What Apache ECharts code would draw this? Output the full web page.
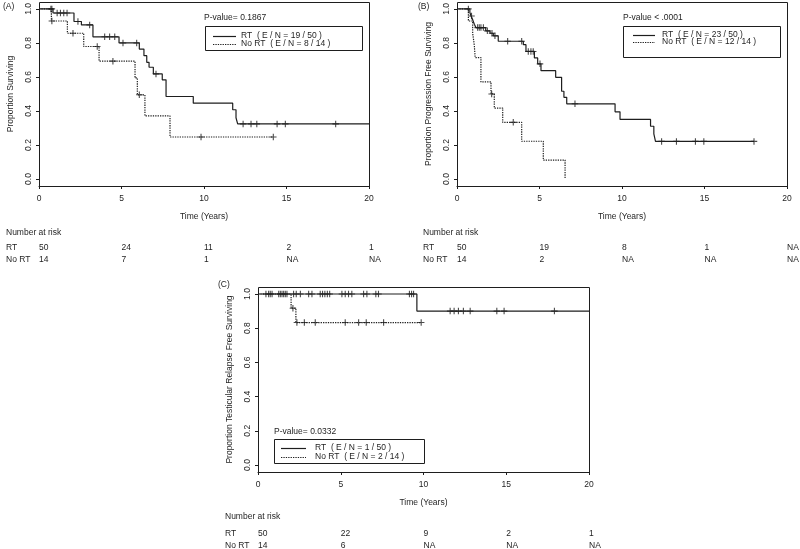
<!DOCTYPE html>
<html><head><meta charset="utf-8">
<script src="https://cdn.jsdelivr.net/npm/echarts@6/dist/echarts.min.js"></script>
<style>html,body{margin:0;padding:0;background:#fff}#c{width:800px;height:549px}</style>
</head><body><div id="c"></div>
<script>
// ---- data ----
const timeTicks = [0, 5, 10, 15, 20];

// Panel A : overall survival
const aRtTime = [0, 0.85, 2.12, 2.57, 3.27, 4.85, 6.08, 6.36, 6.53, 6.67, 6.93, 7.47, 7.70, 9.35, 11.74, 11.94, 12.04, 20];
const aRtSurv = [1, 0.976, 0.926, 0.906, 0.836, 0.80, 0.764, 0.725, 0.686, 0.657, 0.618, 0.583, 0.485, 0.446, 0.407, 0.36, 0.324, 0.324];
const aRtCens = [0.72, 0.78, 1.1, 1.3, 1.5, 1.7, 2.36, 3.07, 3.98, 4.28, 4.59, 5.09, 5.92, 7.09, 12.37, 12.85, 13.2, 14.43, 14.93, 17.98];
const aNoTime = [0, 0.75, 1.72, 2.71, 3.64, 5.82, 5.96, 6.42, 7.94, 14.2];
const aNoSurv = [1, 0.929, 0.857, 0.779, 0.693, 0.594, 0.495, 0.371, 0.247, 0.247];
const aNoCens = [0.78, 2.06, 3.53, 4.48, 6.08, 9.82, 14.2];

// Panel B : progression free survival
const bRtTime = [0, 0.78, 0.85, 0.95, 1.05, 1.15, 1.74, 2.0, 2.2, 2.5, 4.02, 4.18, 4.69, 4.89, 5.09, 5.98, 6.34, 6.48, 6.65, 9.58, 9.88, 11.73, 11.93, 12.03, 18.0];
const bRtSurv = [1, 0.979, 0.958, 0.937, 0.91, 0.89, 0.871, 0.857, 0.842, 0.81, 0.79, 0.75, 0.712, 0.677, 0.637, 0.598, 0.516, 0.48, 0.442, 0.395, 0.35, 0.31, 0.265, 0.221, 0.221];
const bRtCens = [0.69, 0.88, 1.25, 1.35, 1.45, 1.6, 1.84, 2.12, 2.3, 3.07, 3.92, 4.32, 4.48, 4.62, 5.03, 7.15, 12.4, 13.3, 14.45, 14.96, 18.0];
const bNoTime = [0, 0.69, 0.95, 1.05, 1.1, 1.45, 2.06, 2.26, 2.77, 3.92, 5.23, 6.55];
const bNoSurv = [1, 0.929, 0.857, 0.786, 0.714, 0.571, 0.5, 0.417, 0.333, 0.222, 0.111, 0];
const bNoCens = [2.1, 3.41];

// Panel C : testicular relapse free survival
const cRtTime = [0, 9.6, 20];
const cRtSurv = [1, 0.9, 0.9];
const cRtCens = [0.48, 0.64, 0.74, 0.85, 1.25, 1.35, 1.45, 1.55, 1.65, 1.75, 2.15, 2.31, 2.56, 3.06, 3.26, 3.76, 3.9, 4.04, 4.19, 4.33, 5.07, 5.27, 5.47, 5.67, 6.38, 6.58, 7.12, 7.28, 9.15, 9.28, 9.4, 11.61, 11.85, 12.11, 12.41, 12.82, 14.43, 14.87, 17.91];
const cNoTime = [0, 2.0, 2.29, 9.86];
const cNoSurv = [1, 0.917, 0.833, 0.833];
const cNoCens = [2.11, 2.35, 2.8, 3.46, 5.27, 6.08, 6.54, 7.59, 9.86];

// number at risk
const riskRtA = ['50', '24', '11', '2', '1'];
const riskNoA = ['14', '7', '1', 'NA', 'NA'];
const riskRtB = ['50', '19', '8', '1', 'NA'];
const riskNoB = ['14', '2', 'NA', 'NA', 'NA'];
const riskRtC = ['50', '22', '9', '2', '1'];
const riskNoC = ['14', '6', 'NA', 'NA', 'NA'];

const pvalues = ['P-value= 0.1867', 'P-value < .0001', 'P-value= 0.0332'];
const legendRt = ['RT  ( E / N = 19 / 50 )', 'RT  ( E / N = 23 / 50 )', 'RT  ( E / N = 1 / 50 )'];
const legendNo = ['No RT  ( E / N = 8 / 14 )', 'No RT  ( E / N = 12 / 14 )', 'No RT  ( E / N = 2 / 14 )'];
const yTitles = ['Proportion Surviving', 'Proportion Progression Free Surviving', 'Proportion Testicular Relapse Free Surviving'];
const panelLabels = ['(A)', '(B)', '(C)'];

// ---- layout ----
const FONT = 'Liberation Sans';
const INK = '#1e1e1e';
const FS = 8.5;
const LW = 1.2;
const DOT = [1.3, 1.1];
const panels = [
  { grid: {left: 39, top: 8, width: 330, height: 171},
    rt: [aRtTime, aRtSurv, aRtCens], no: [aNoTime, aNoSurv, aNoCens],
    risk: [riskRtA, riskNoA], riskLabelX: 6, riskY: [233, 248, 260],
    pvalPos: [204, 18], box: [205, 26, 157, 24], lineX: [213, 236], lineY: [36, 44], textX: 241,
    labelPos: [3, 7] },
  { grid: {left: 457, top: 8, width: 330, height: 171},
    rt: [bRtTime, bRtSurv, bRtCens], no: [bNoTime, bNoSurv, bNoCens],
    risk: [riskRtB, riskNoB], riskLabelX: 423, riskY: [233, 248, 260],
    pvalPos: [623, 18], box: [623, 26, 157, 31], lineX: [633, 655], lineY: [35, 42], textX: 662,
    labelPos: [418, 7] },
  { grid: {left: 258, top: 294, width: 331, height: 171},
    rt: [cRtTime, cRtSurv, cRtCens], no: [cNoTime, cNoSurv, cNoCens],
    risk: [riskRtC, riskNoC], riskLabelX: 225, riskY: [517, 534, 546],
    pvalPos: [274, 432], box: [274, 439, 150, 24], lineX: [281, 306], lineY: [448, 457], textX: 315,
    labelPos: [218, 285] }
];

function survAt(times, surv, t) {
  let v = surv[0];
  for (let i = 0; i < times.length; i++) { if (times[i] <= t + 1e-9) v = surv[i]; }
  return v;
}
const PLUS = 'path://M5,0L5,10M0,5L10,5';

const chart = echarts.init(document.getElementById('c'), null, {renderer: 'canvas'});
const series = [];
panels.forEach((p, i) => {
  [[p.rt, 'solid'], [p.no, DOT]].forEach(([d, type]) => {
    series.push({
      type: 'line', xAxisIndex: i, yAxisIndex: i, step: 'end', showSymbol: false, clip: false,
      silent: true, lineStyle: {color: INK, width: LW, type: type},
      data: d[0].map((t, k) => [t, d[1][k]])
    });
    series.push({
      type: 'scatter', xAxisIndex: i, yAxisIndex: i, symbol: PLUS, symbolSize: 6.5, clip: false, silent: true,
      itemStyle: {color: 'none', borderColor: INK, borderWidth: 1.1},
      data: d[2].map(t => [t, survAt(d[0], d[1], t)])
    });
  });
});

const txt = {color: INK, fontFamily: FONT, fontSize: FS};
chart.setOption({
  animation: false,
  backgroundColor: '#fff',
  grid: panels.map(p => Object.assign({containLabel: false}, p.grid)),
  xAxis: panels.map((p, i) => ({
    gridIndex: i, type: 'value', min: 0, max: 20, interval: 5, offset: 7, position: 'bottom',
    axisLine: {show: true, onZero: false, lineStyle: {color: INK, width: 1}},
    axisTick: {show: true, length: 3, lineStyle: {color: INK}},
    splitLine: {show: false},
    axisLabel: Object.assign({margin: 8}, txt),
    name: 'Time (Years)', nameLocation: 'middle', nameGap: 26, nameTextStyle: txt
  })),
  yAxis: panels.map((p, i) => ({
    gridIndex: i, type: 'value', min: 0, max: 1, interval: 0.2,
    axisLine: {show: true, lineStyle: {color: INK, width: 1}},
    axisTick: {show: true, length: 3, lineStyle: {color: INK}},
    splitLine: {show: false},
    axisLabel: Object.assign({margin: 6, rotate: 90, formatter: v => v.toFixed(1)}, txt),
    name: yTitles[i], nameLocation: 'middle', nameGap: 24, nameTextStyle: txt
  })),
  series: series
});

// graphics: frames, legends, risk tables, panel labels
const g = [];
function text(str, x, y, align) {
  g.push({type: 'text', x: x, y: y, silent: true,
    style: {text: str, fill: INK, fontFamily: FONT, fontSize: FS, align: align || 'left', verticalAlign: 'middle'}});
}
panels.forEach((p, i) => {
  const tl = chart.convertToPixel({gridIndex: i}, [0, 1.04]);
  const br = chart.convertToPixel({gridIndex: i}, [20, -0.04]);
  g.push({type: 'rect', silent: true, shape: {x: Math.round(tl[0]) + 0.5, y: Math.round(tl[1]) + 0.5, width: Math.round(br[0] - tl[0]), height: Math.round(br[1] - tl[1])},
    style: {fill: 'none', stroke: INK, lineWidth: 1}});
  // legend
  text(pvalues[i], p.pvalPos[0], p.pvalPos[1]);
  g.push({type: 'rect', silent: true, shape: {x: p.box[0] + 0.5, y: p.box[1] + 0.5, width: p.box[2], height: p.box[3]},
    style: {fill: '#fff', stroke: INK, lineWidth: 1}});
  g.push({type: 'line', silent: true, shape: {x1: p.lineX[0], y1: p.lineY[0] + 0.5, x2: p.lineX[1], y2: p.lineY[0] + 0.5}, style: {stroke: INK, lineWidth: LW}});
  g.push({type: 'line', silent: true, shape: {x1: p.lineX[0], y1: p.lineY[1] + 0.5, x2: p.lineX[1], y2: p.lineY[1] + 0.5}, style: {stroke: INK, lineWidth: LW, lineDash: DOT}});
  text(legendRt[i], p.textX, p.lineY[0]);
  text(legendNo[i], p.textX, p.lineY[1]);
  // panel label
  text(panelLabels[i], p.labelPos[0], p.labelPos[1]);
  // risk table
  text('Number at risk', p.riskLabelX, p.riskY[0]);
  text('RT', p.riskLabelX, p.riskY[1]);
  text('No RT', p.riskLabelX, p.riskY[2]);
  timeTicks.forEach((t, k) => {
    const x = chart.convertToPixel({xAxisIndex: i}, t);
    text(p.risk[0][k], x, p.riskY[1]);
    text(p.risk[1][k], x, p.riskY[2]);
  });
});
chart.setOption({graphic: g});
</script>
</body></html>
